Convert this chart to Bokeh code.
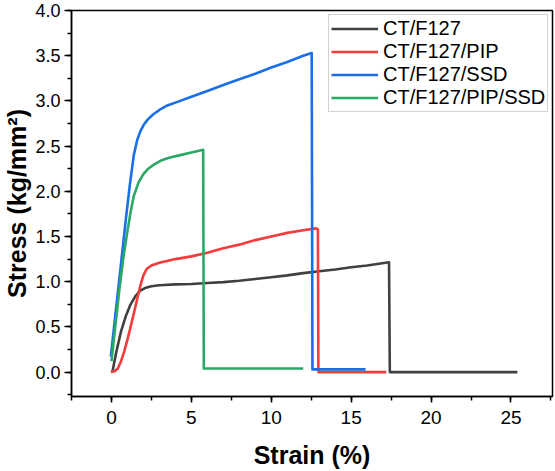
from bokeh.plotting import figure
from bokeh.models import Range1d, SingleIntervalTicker, NumeralTickFormatter, Legend, LegendItem
from bokeh.embed import file_html
from bokeh.resources import INLINE

# Stress-strain curves (strain in %, stress in kg/mm^2)
ct_strain = [0.06, 0.3, 0.6, 0.9, 1.2, 1.5, 1.8, 2.1, 2.5, 3.0, 4.0, 5.0, 6.0, 7.0, 8.0, 9.0,
             10.0, 11.0, 12.0, 13.0, 14.0, 15.0, 16.0, 17.37, 17.42, 17.6, 25.4]
ct_stress = [0.0, 0.22, 0.45, 0.62, 0.75, 0.84, 0.90, 0.93, 0.95, 0.96, 0.97, 0.975, 0.985, 0.995,
             1.01, 1.03, 1.05, 1.07, 1.095, 1.115, 1.135, 1.16, 1.18, 1.215, 0.0, 0.0, 0.0]

pip_strain = [-0.04, 0.2, 0.4, 0.6, 0.8, 1.0, 1.2, 1.4, 1.6, 1.8, 2.0, 2.2, 2.5, 3.0, 4.0, 5.0,
              6.0, 7.0, 8.0, 9.0, 10.0, 11.0, 12.0, 12.8, 12.92, 12.95, 13.1, 17.2]
pip_stress = [0.0, 0.01, 0.04, 0.12, 0.23, 0.36, 0.50, 0.65, 0.80, 0.95, 1.07, 1.14, 1.18, 1.21,
              1.25, 1.28, 1.32, 1.37, 1.41, 1.46, 1.50, 1.54, 1.57, 1.59, 1.58, 0.0, 0.0, 0.0]

ssd_strain = [-0.04, 0.3, 0.6, 0.9, 1.15, 1.4, 1.6, 1.8, 2.0, 2.25, 2.6, 3.0, 3.5, 4.3, 5.0,
              6.0, 7.0, 8.0, 9.0, 10.0, 11.0, 12.0, 12.53, 12.58, 12.8, 15.9]
ssd_stress = [0.17, 0.72, 1.20, 1.69, 2.07, 2.40, 2.56, 2.66, 2.73, 2.79, 2.85, 2.90, 2.95, 3.00,
              3.045, 3.11, 3.175, 3.24, 3.30, 3.37, 3.43, 3.50, 3.53, 0.03, 0.03, 0.03]

pipssd_strain = [0.0, 0.25, 0.5, 0.75, 1.0, 1.2, 1.4, 1.7, 2.0, 2.3, 2.7, 3.1, 3.6, 4.3, 5.0,
                 5.74, 5.78, 6.0, 12.0]
pipssd_stress = [0.12, 0.52, 0.92, 1.27, 1.56, 1.77, 1.95, 2.10, 2.19, 2.25, 2.30, 2.34, 2.37,
                 2.40, 2.43, 2.46, 0.04, 0.04, 0.04]

series_names = ["CT/F127", "CT/F127/PIP", "CT/F127/SSD", "CT/F127/PIP/SSD"]
series_colors = ["#404040", "#f53c3c", "#1a6fe8", "#2aa866"]

FONT = "Liberation Sans"

p = figure(width=555, height=471, output_backend="svg", toolbar_location=None,
           x_range=Range1d(-2.5, 27.6), y_range=Range1d(-0.27, 4.0),
           min_border_left=71, min_border_right=3, min_border_top=10, min_border_bottom=74)
p.background_fill_color = "white"
p.border_fill_color = "white"
p.outline_line_color = "black"
p.outline_line_width = 1.5
p.xgrid.visible = False
p.ygrid.visible = False

renderers = []
data = [(ct_strain, ct_stress), (pip_strain, pip_stress),
        (ssd_strain, ssd_stress), (pipssd_strain, pipssd_stress)]
for (xs, ys), c in zip(data, series_colors):
    r = p.line(xs, ys, line_color=c, line_width=2.6, line_join="round")
    renderers.append(r)

# axes
p.xaxis.ticker = SingleIntervalTicker(interval=5, num_minor_ticks=2)
p.yaxis.ticker = SingleIntervalTicker(interval=0.5, num_minor_ticks=2)
p.yaxis.formatter = NumeralTickFormatter(format="0.0")
p.xaxis.formatter = NumeralTickFormatter(format="0")

for ax in (p.xaxis[0], p.yaxis[0]):
    ax.axis_line_color = "black"
    ax.axis_line_width = 1.5
    ax.major_tick_line_color = "black"
    ax.major_tick_line_width = 1.5
    ax.minor_tick_line_color = "black"
    ax.minor_tick_line_width = 1.5
    ax.major_tick_in = 0
    ax.minor_tick_in = 0
    ax.major_label_text_font = FONT
    ax.major_label_text_font_size = "19px"
    ax.major_label_text_color = "black"
    ax.axis_label_text_font = FONT
    ax.axis_label_text_font_style = "bold"
    ax.axis_label_text_font_size = "25px"
    ax.axis_label_text_color = "black"

p.yaxis.major_label_text_font_size = "18px"
p.xaxis.major_tick_out = 6
p.xaxis.minor_tick_out = 4
p.yaxis.major_tick_out = 7
p.yaxis.minor_tick_out = 4
p.xaxis.major_label_standoff = 8
p.yaxis.major_label_standoff = 4
p.xaxis.axis_label = "Strain (%)"
p.yaxis.axis_label = "Stress (kg/mm²)"
p.xaxis.axis_label_standoff = 14
p.yaxis.axis_label_standoff = 1

legend = Legend(items=[LegendItem(label=n, renderers=[r]) for n, r in zip(series_names, renderers)],
                location=(257, 284), margin=0, padding=2, spacing=0,
                glyph_width=47, glyph_height=23, label_height=23, label_standoff=5,
                label_text_font=FONT, label_text_font_size="20px", label_text_color="black",
                border_line_color="#a8a8a8", border_line_width=1.2,
                background_fill_color="white", background_fill_alpha=1.0)
p.add_layout(legend, "center")

open("out.html", "w").write(file_html(p, INLINE))
